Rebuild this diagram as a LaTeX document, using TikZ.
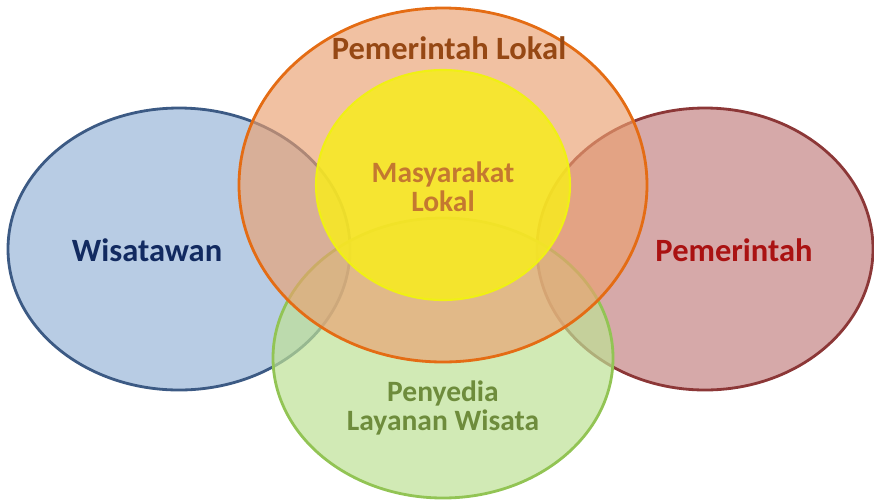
\documentclass[tikz,border=0pt]{standalone}
\usepackage{fontspec}
\setmainfont{Carlito}
\definecolor{wisfill}{RGB}{184,204,228}
\definecolor{wisline}{RGB}{60,90,132}
\definecolor{wistext}{RGB}{18,42,96}
\definecolor{pemfill}{RGB}{200,140,140}
\definecolor{pemline}{RGB}{140,55,55}
\definecolor{pemtext}{RGB}{170,18,18}
\definecolor{lokfill}{RGB}{234,160,112}
\definecolor{lokline}{RGB}{228,108,20}
\definecolor{loktext}{RGB}{150,72,20}
\definecolor{lyfill}{RGB}{190,225,150}
\definecolor{lyline}{RGB}{146,196,84}
\definecolor{lytext}{RGB}{110,140,60}
\definecolor{mfill}{RGB}{248,236,30}
\definecolor{mline}{RGB}{240,240,20}
\definecolor{mtext}{RGB}{196,120,48}

\begin{document}
\begin{tikzpicture}[x=0.02cm,y=-0.02cm,
    label/.style={font=\fontsize{18.5}{16.8}\selectfont\bfseries,align=center},
    smalllabel/.style={font=\fontsize{16.8}{16.6}\selectfont\bfseries,align=center}]
      \useasboundingbox (0,0) rectangle (874,501);
      % sets
      \filldraw[fill=wisfill,draw=wisline,line width=1.6pt] (179,249) ellipse [x radius=171, y radius=141];
      \filldraw[fill=pemfill,fill opacity=.75,draw=pemline,line width=1.6pt] (705,249) ellipse [x radius=168, y radius=141];
      \filldraw[fill=lyfill,fill opacity=.7,draw=lyline,line width=1.6pt] (443,358) ellipse [x radius=170, y radius=140];
      \filldraw[fill=lokfill,fill opacity=.65,draw=lokline,line width=1.6pt] (443,185) ellipse [x radius=204, y radius=177];
      \filldraw[fill=mfill,fill opacity=.85,draw=mline,line width=1.2pt] (443,185) ellipse [x radius=127, y radius=115];
      % labels
      \node[label,text=wistext] (wis) at (147,250) {Wisatawan};
      \node[label,text=pemtext] (pem) at (734,250) {Pemerintah};
      \node[label,text=loktext] (lok) at (449,48) {Pemerintah Lokal};
      \node[smalllabel,text=mtext] (mas) at (443,187) {Masyarakat\\Lokal};
      \node[smalllabel,text=lytext] (lay) at (443,408) {Penyedia\\Layanan Wisata};
    \end{tikzpicture}
\end{document}
